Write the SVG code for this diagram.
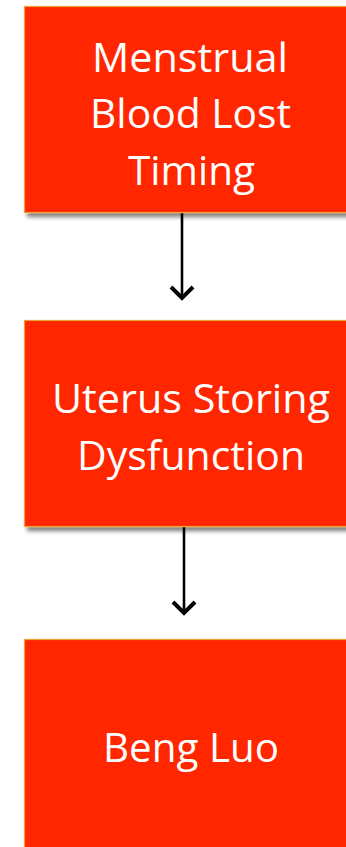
<svg xmlns="http://www.w3.org/2000/svg" width="346" height="847" viewBox="0 0 346 847">
<defs>
<filter id="sh" x="-10%" y="-10%" width="130%" height="130%">
<feGaussianBlur in="SourceAlpha" stdDeviation="2"/>
<feOffset dx="3" dy="4" result="b"/>
<feComponentTransfer><feFuncA type="linear" slope="0.5"/></feComponentTransfer>
<feMerge><feMergeNode/><feMergeNode in="SourceGraphic"/></feMerge>
</filter>
<marker id="ah" viewBox="0 0 26 26" markerWidth="26" markerHeight="26" refX="22" refY="13" orient="auto" markerUnits="userSpaceOnUse">
<path d="M10,2 L21,13 L10,24" fill="none" stroke="#000" stroke-width="4" stroke-linejoin="miter"/>
</marker>
</defs>
<style>
.box{fill:#FF2600;stroke:#F0A030;stroke-width:1.2;filter:url(#sh)}
.t{font-family:"Open Sans","Noto Sans",sans-serif;font-size:40px;fill:#fff;text-anchor:middle}
.c{stroke:#000;stroke-width:2.6;fill:none;marker-end:url(#ah)}
</style>
<rect width="346" height="847" fill="#fff"/>
<g id="connectors">
<path class="c" d="M182,213 L182,299"/>
<path class="c" d="M184,527 L184,614"/>
</g>
<g id="node1">
<rect class="box" x="24.5" y="6.5" width="340" height="206"/>
<text class="t" x="190" y="72" textLength="196" lengthAdjust="spacingAndGlyphs">Menstrual</text>
<text class="t" x="190.5" y="128" textLength="201" lengthAdjust="spacingAndGlyphs">Blood Lost</text>
<text class="t" x="191.5" y="185" textLength="127" lengthAdjust="spacingAndGlyphs">Timing</text>
</g>
<g id="node2">
<rect class="box" x="24.5" y="320.5" width="340" height="206"/>
<text class="t" x="191" y="413" textLength="278" lengthAdjust="spacingAndGlyphs">Uterus Storing</text>
<text class="t" x="191" y="470" textLength="228" lengthAdjust="spacingAndGlyphs">Dysfunction</text>
</g>
<g id="node3">
<rect class="box" x="24.5" y="639.5" width="340" height="230"/>
<text class="t" x="191" y="762" textLength="176" lengthAdjust="spacingAndGlyphs">Beng Luo</text>
</g>
</svg>
